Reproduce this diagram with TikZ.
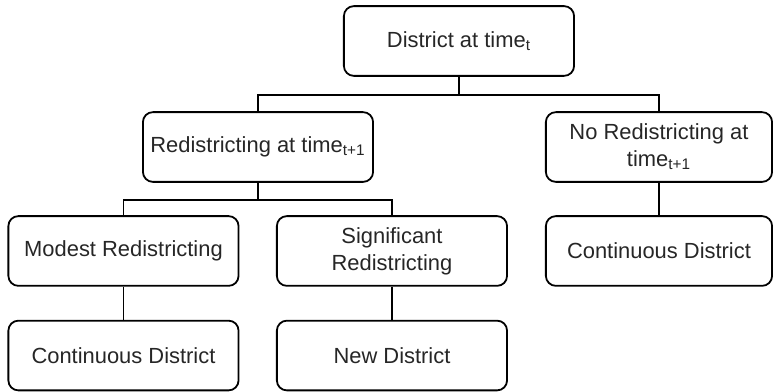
\documentclass[tikz,border=0pt]{standalone}
\usepackage{fontspec}
\setmainfont{Liberation Sans}
\usetikzlibrary{positioning}

\begin{document}
\begin{tikzpicture}[
    stage/.style={draw, rounded corners=5pt, line width=0.9pt, minimum width=4.06cm, minimum height=1.23cm,
        inner sep=2pt, align=center, font=\fontsize{11}{13.5}\selectfont, text=black!85},
    link/.style={line width=0.9pt}
]
    \useasboundingbox (0, 0) rectangle (13.653, -6.897);

    \node[stage] (district) at (8.096, -0.723) {District at time\textsubscript{t}};

    \node[stage] (redist) at (4.551, -2.593) {Redistricting at time\textsubscript{t+1}};
    \node[stage, minimum width=3.99cm] (noredist) at (11.624, -2.593) {No Redistricting at\\time\textsubscript{t+1}};

    \node[stage] (modest) at (2.178, -4.427) {Modest Redistricting};
    \node[stage] (significant) at (6.914, -4.427) {Significant\\Redistricting};
    \node[stage, minimum width=3.99cm] (contright) at (11.624, -4.427) {Continuous District};

    \node[stage] (contleft) at (2.178, -6.271) {Continuous District};
    \node[stage] (newdist) at (6.914, -6.271) {New District};

    \draw[link] (district.south) -- ++(0, -0.32) -| (redist.north);
    \draw[link] (district.south) -- ++(0, -0.32) -| (noredist.north);
    \draw[link] (redist.south) -- ++(0, -0.31) -| (modest.north);
    \draw[link] (redist.south) -- ++(0, -0.31) -| (significant.north);
    \draw[link] (noredist) -- (contright);
    \draw[link] (modest) -- (contleft);
    \draw[link] (significant) -- (newdist);
\end{tikzpicture}
\end{document}
